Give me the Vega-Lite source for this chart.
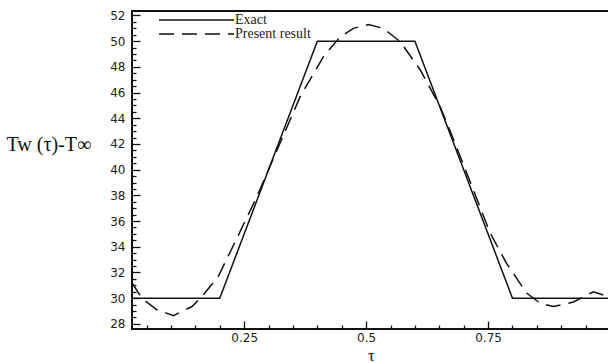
{
  "$schema": "https://vega.github.io/schema/vega-lite/v6.json",
  "width": 478,
  "height": 318,
  "autosize": "none",
  "padding": {"left": 132, "top": 11, "right": 0, "bottom": 34},
  "background": "white",
  "config": {
    "view": {"stroke": "#111", "strokeWidth": 2},
    "axis": {
      "domain": false,
      "grid": false,
      "tickColor": "#111",
      "tickWidth": 1.3,
      "labelFont": "DejaVu Sans",
      "labelFontSize": 12,
      "labelColor": "#222",
      "titleColor": "#111",
      "titleFontWeight": "normal"
    }
  },
  "data": {
    "values": [
      {"tau": 0.0, "T": 30, "series": "Exact"},
      {"tau": 0.2, "T": 30, "series": "Exact"},
      {"tau": 0.4, "T": 50, "series": "Exact"},
      {"tau": 0.6, "T": 50, "series": "Exact"},
      {"tau": 0.8, "T": 30, "series": "Exact"},
      {"tau": 1.0, "T": 30, "series": "Exact"},
      {"tau": 0.02, "T": 31.2, "series": "Present result"},
      {"tau": 0.04, "T": 30.0, "series": "Present result"},
      {"tau": 0.071, "T": 29.1, "series": "Present result"},
      {"tau": 0.105, "T": 28.64, "series": "Present result"},
      {"tau": 0.143, "T": 29.35, "series": "Present result"},
      {"tau": 0.163, "T": 30.1, "series": "Present result"},
      {"tau": 0.197, "T": 31.7, "series": "Present result"},
      {"tau": 0.235, "T": 34.66, "series": "Present result"},
      {"tau": 0.276, "T": 37.9, "series": "Present result"},
      {"tau": 0.317, "T": 41.5, "series": "Present result"},
      {"tau": 0.365, "T": 45.7, "series": "Present result"},
      {"tau": 0.4125, "T": 48.8, "series": "Present result"},
      {"tau": 0.447, "T": 50.35, "series": "Present result"},
      {"tau": 0.474, "T": 51.0, "series": "Present result"},
      {"tau": 0.505, "T": 51.3, "series": "Present result"},
      {"tau": 0.535, "T": 51.0, "series": "Present result"},
      {"tau": 0.57, "T": 49.96, "series": "Present result"},
      {"tau": 0.611, "T": 47.76, "series": "Present result"},
      {"tau": 0.652, "T": 44.9, "series": "Present result"},
      {"tau": 0.686, "T": 41.7, "series": "Present result"},
      {"tau": 0.754, "T": 35.1, "series": "Present result"},
      {"tau": 0.788, "T": 32.7, "series": "Present result"},
      {"tau": 0.829, "T": 30.4, "series": "Present result"},
      {"tau": 0.857, "T": 29.6, "series": "Present result"},
      {"tau": 0.884, "T": 29.35, "series": "Present result"},
      {"tau": 0.925, "T": 29.7, "series": "Present result"},
      {"tau": 0.966, "T": 30.5, "series": "Present result"},
      {"tau": 0.986, "T": 30.25, "series": "Present result"},
      {"tau": 1.0, "T": 29.9, "series": "Present result"}
    ]
  },
  "mark": {"type": "line", "strokeWidth": 1.5, "color": "#111", "clip": true},
  "encoding": {
    "x": {
      "field": "tau",
      "type": "quantitative",
      "scale": {"domain": [0.02, 1.0], "nice": false, "zero": false},
      "axis": {
        "title": "τ",
        "titleFont": "Liberation Serif",
        "titleFontSize": 17,
        "titleBaseline": "alphabetic",
        "titleY": 31,
        "values": [0.05, 0.1, 0.15, 0.2, 0.25, 0.3, 0.35, 0.4, 0.45, 0.5, 0.55, 0.6, 0.65, 0.7, 0.75, 0.8, 0.85, 0.9, 0.95],
        "labelExpr": "(datum.value == 0.25 || datum.value == 0.5 || datum.value == 0.75) ? toString(datum.value) : ''",
        "tickSize": {"condition": {"test": "datum.value == 0.25 || datum.value == 0.5 || datum.value == 0.75", "value": -8}, "value": -4},
        "labelPadding": 11,
        "labelFlush": false,
        "labelOverlap": false
      }
    },
    "y": {
      "field": "T",
      "type": "quantitative",
      "scale": {"domain": [27.6, 52.35], "nice": false, "zero": false},
      "axis": {
        "title": "Tw (τ)-T∞",
        "titleFont": "Liberation Serif",
        "titleFontSize": 20,
        "titleAngle": 0,
        "titleAlign": "left",
        "titleBaseline": "middle",
        "titleX": -126,
        "titleY": 133,
        "values": [28, 28.5, 29, 29.5, 30, 30.5, 31, 31.5, 32, 32.5, 33, 33.5, 34, 34.5, 35, 35.5, 36, 36.5, 37, 37.5, 38, 38.5, 39, 39.5, 40, 40.5, 41, 41.5, 42, 42.5, 43, 43.5, 44, 44.5, 45, 45.5, 46, 46.5, 47, 47.5, 48, 48.5, 49, 49.5, 50, 50.5, 51, 51.5, 52],
        "labelExpr": "datum.value % 2 == 0 ? toString(datum.value) : ''",
        "tickSize": {"condition": {"test": "datum.value % 2 == 0", "value": -8}, "value": -4},
        "labelPadding": 15,
        "labelFlush": false,
        "labelOverlap": false
      }
    },
    "strokeDash": {
      "field": "series",
      "type": "nominal",
      "scale": {"domain": ["Exact", "Present result"], "range": [[1, 0], [15, 8]]},
      "legend": {
        "title": null,
        "orient": "none",
        "legendX": 25,
        "legendY": 2,
        "symbolType": "M-1,0H14",
        "symbolSize": 100,
        "symbolStrokeWidth": 1.5,
        "symbolStrokeColor": "#111",
        "symbolFillColor": "transparent",
        "labelFont": "Liberation Serif",
        "labelFontSize": 14,
        "labelColor": "#222",
        "labelOffset": 64,
        "rowPadding": 0
      }
    }
  }
}
